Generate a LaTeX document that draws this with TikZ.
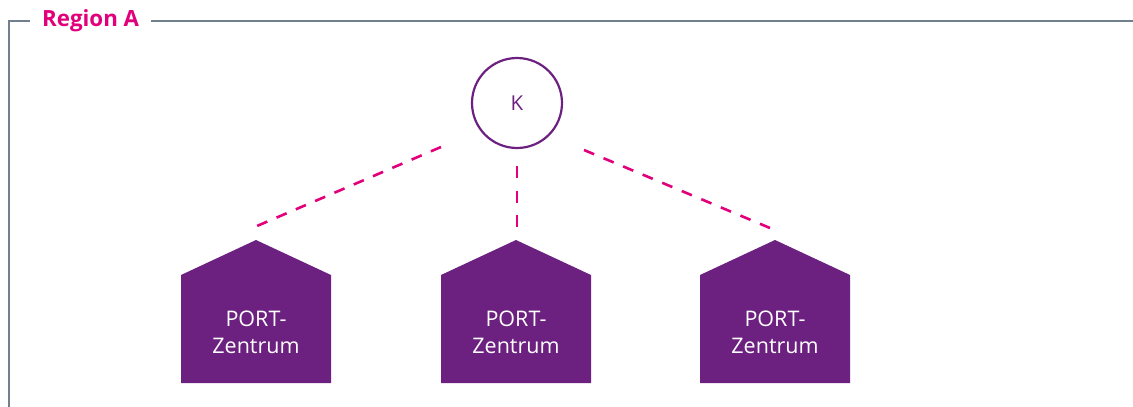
\documentclass[tikz,border=0pt]{standalone}
\usepackage{fontspec}
\setmainfont{Open Sans}
\definecolor{portpurple}{HTML}{6C2080}
\definecolor{linkmag}{HTML}{E2007A}
\definecolor{framegray}{HTML}{71808E}
\begin{document}
\begin{tikzpicture}[x=1pt,y=-1pt,
  frameline/.style={draw=framegray,line width=2pt},
  link/.style={draw=linkmag,line width=2.6pt,dash pattern=on 11pt off 10pt},
  house/.style={fill=portpurple,draw=none},
  housetext/.style={text=white,align=center,font=\fontsize{21.5}{27}\selectfont},
  hub/.style={circle,draw=portpurple,line width=2.2pt,minimum size=90pt,inner sep=0pt,text=portpurple,font=\fontsize{20.5}{22}\selectfont}]
\useasboundingbox (0,0) rectangle (1133,407);
% frame
\node[anchor=west,text=linkmag,font=\fontsize{22.3}{24}\selectfont\bfseries,inner sep=0pt] (title) at (42,21) {Region A};
\coordinate (fbl) at (9,407);
\coordinate (ftl) at (9,21);
\coordinate (fr) at (1133,21);
\draw[frameline] (fbl) -- (ftl) -- ([xshift=-12pt]title.west);
\draw[frameline] ([xshift=12pt]title.east) -- (fr);
% hub
\node[hub] (k) at (517,103) {K};
% houses
\foreach \i/\cx in {1/256,2/516,3/775}{
  \fill[house] (\cx-75,383) -- (\cx-75,275) -- (\cx,240) -- (\cx+75,275) -- (\cx+75,383) -- cycle;
  \node[housetext] (h\i) at (\cx,332) {PORT-\\Zentrum};
  \coordinate (top\i) at (\cx,240);
}
% links
\coordinate (a1) at (441,147);
\coordinate (b1) at (257,226);
\coordinate (a2) at (517,166);
\coordinate (b2) at (517,227);
\coordinate (a3) at (584,150);
\coordinate (b3) at (770,228);
\draw[link] (a1) -- (b1);
\draw[link,dash pattern=on 12pt off 12.5pt] (a2) -- (b2);
\draw[link,dash pattern=on 11pt off 10.2pt] (a3) -- (b3);
\end{tikzpicture}
\end{document}
